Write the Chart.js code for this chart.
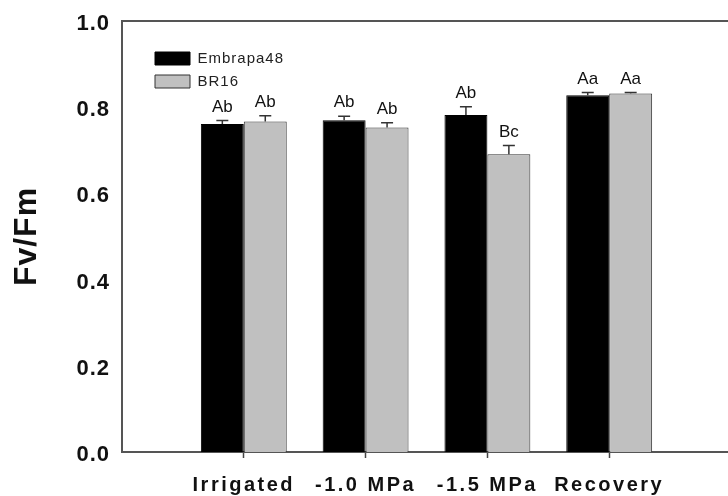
<!DOCTYPE html>
<html>
<head>
<meta charset="utf-8">
<title>Fv/Fm</title>
<script src="https://cdn.jsdelivr.net/npm/chart.js@4.4.1/dist/chart.umd.min.js"></script>
<style>
    html, body { margin: 0; padding: 0; background: #fff; overflow: hidden; }
    #wrap { width: 728px; height: 496px; overflow: hidden; }
    canvas { display: block; }
</style>
</head>
<body>
<div id="wrap"><canvas id="chart" width="746" height="496"></canvas></div>
<script>
// Values
const treatments = ['Irrigated', '-1.0 MPa', '-1.5 MPa', 'Recovery'];
const embrapaValues = [0.761, 0.770, 0.782, 0.828];
const embrapaErrors = [0.008, 0.009, 0.019, 0.006];
const embrapaLetters = ['Ab', 'Ab', 'Ab', 'Aa'];
const br16Values = [0.767, 0.753, 0.691, 0.832];
const br16Errors = [0.013, 0.011, 0.020, 0.002];
const br16Letters = ['Ab', 'Ab', 'Bc', 'Aa'];
const yTicks = [0, 0.2, 0.4, 0.6, 0.8, 1.0];

const FONT = '"Liberation Sans", Arial, Helvetica, sans-serif';
const AXIS_COLOR = '#555';

/**
 * The x range has an empty slot on each side of the four groups
 */
function pad(arr) {
    return [null, ...arr, null];
}

/**
 * Upward error bars and significance letters above each bar
 */
const errorBarPlugin = {
    id: 'errorBars',
    afterDatasetsDraw(chart) {
        const ctx = chart.ctx;
        const yScale = chart.scales.y;
        chart.data.datasets.forEach((ds, i) => {
            const meta = chart.getDatasetMeta(i);
            meta.data.forEach((bar, j) => {
                const v = ds.data[j];
                if (v == null) return;
                const top = yScale.getPixelForValue(v + ds.errors[j]);
                ctx.save();
                ctx.strokeStyle = '#333';
                ctx.lineWidth = 1.5;
                ctx.beginPath();
                ctx.moveTo(bar.x, bar.y);
                ctx.lineTo(bar.x, top);
                ctx.moveTo(bar.x - 6, top);
                ctx.lineTo(bar.x + 6, top);
                ctx.stroke();
                ctx.letterSpacing = '0px';
                ctx.fillStyle = '#111';
                ctx.font = '17px ' + FONT;
                ctx.textAlign = 'center';
                ctx.textBaseline = 'alphabetic';
                ctx.fillText(ds.letters[j], bar.x, top - 9);
                ctx.restore();
            });
        });
    }
};

/**
 * Letter spacing for text, and legend moved into the plot corner
 */
const layoutPlugin = {
    id: 'layoutTweaks',
    afterLayout(chart) {
        chart.legend.left = chart.chartArea.left + 25;
        chart.legend.top = chart.chartArea.top + 22;
        const xs = chart.scales.x;
        if (!xs._spaced) {
            const orig = xs.drawLabels.bind(xs);
            xs.drawLabels = (area) => {
                const c = chart.ctx;
                const prev = c.letterSpacing;
                c.letterSpacing = '2.5px';
                orig(area);
                c.letterSpacing = prev;
            };
            xs._spaced = true;
        }
    },
    beforeDraw(chart) {
        chart.ctx.letterSpacing = '1px';
    }
};

new Chart(document.getElementById('chart'), {
    type: 'bar',
    data: {
        labels: ['', ...treatments, ''],
        datasets: [{
            label: 'Embrapa48',
            data: pad(embrapaValues),
            errors: pad(embrapaErrors),
            letters: pad(embrapaLetters),
            backgroundColor: '#000000',
            borderColor: '#000000',
            borderWidth: 1,
        }, {
            label: 'BR16',
            data: pad(br16Values),
            errors: pad(br16Errors),
            letters: pad(br16Letters),
            backgroundColor: '#c0c0c0',
            borderColor: '#333333',
            borderWidth: 1,
        }]
    },
    options: {
        responsive: false,
        animation: false,
        devicePixelRatio: 1,
        layout: {
            padding: { left: 0, top: 21, right: 7, bottom: 0 }
        },
        datasets: {
            bar: { categoryPercentage: 0.705, barPercentage: 1 }
        },
        plugins: {
            legend: {
                position: 'chartArea',
                align: 'start',
                labels: {
                    boxWidth: 35,
                    boxHeight: 13,
                    padding: 8,
                    color: '#222',
                    font: { family: FONT, size: 15 }
                }
            },
            tooltip: { enabled: false }
        },
        scales: {
            x: {
                type: 'category',
                offset: false,
                afterFit: (s) => { s.height = 44; },
                grid: {
                    display: true,
                    offset: false,
                    drawOnChartArea: false,
                    drawTicks: true,
                    tickLength: 6,
                    tickWidth: 1.5,
                    tickColor: (c) => (c.index === 0 ? 'rgba(0,0,0,0)' : '#444')
                },
                border: { display: true, color: AXIS_COLOR, width: 2 },
                ticks: {
                    autoSkip: false,
                    maxRotation: 0,
                    padding: 15,
                    color: '#111',
                    font: { family: FONT, size: 20, weight: 'bold', lineHeight: 1.2 }
                }
            },
            xTop: {
                type: 'category',
                position: 'top',
                offset: false,
                grid: { display: false, drawTicks: false },
                border: { display: true, color: AXIS_COLOR, width: 2 },
                ticks: { display: false }
            },
            y: {
                min: 0,
                max: 1,
                afterBuildTicks: (s) => { s.ticks = yTicks.map(v => ({ value: v })); },
                afterFit: (s) => {
                    s.width = 122;
                    s.paddingTop = 0;
                    s.paddingBottom = 0;
                },
                grid: { display: false, drawTicks: false },
                border: { display: true, color: AXIS_COLOR, width: 2 },
                ticks: {
                    padding: 12,
                    labelOffset: 3,
                    color: '#111',
                    font: { family: FONT, size: 22, weight: 'bold' },
                    callback: (v) => Number(v).toFixed(1)
                },
                title: {
                    display: true,
                    text: 'Fv/Fm',
                    color: '#111',
                    font: { family: FONT, size: 32, weight: 'bold', lineHeight: 1.2 },
                    padding: { top: 8, bottom: 0 }
                }
            }
        }
    },
    plugins: [errorBarPlugin, layoutPlugin]
});
</script>
</body>
</html>
